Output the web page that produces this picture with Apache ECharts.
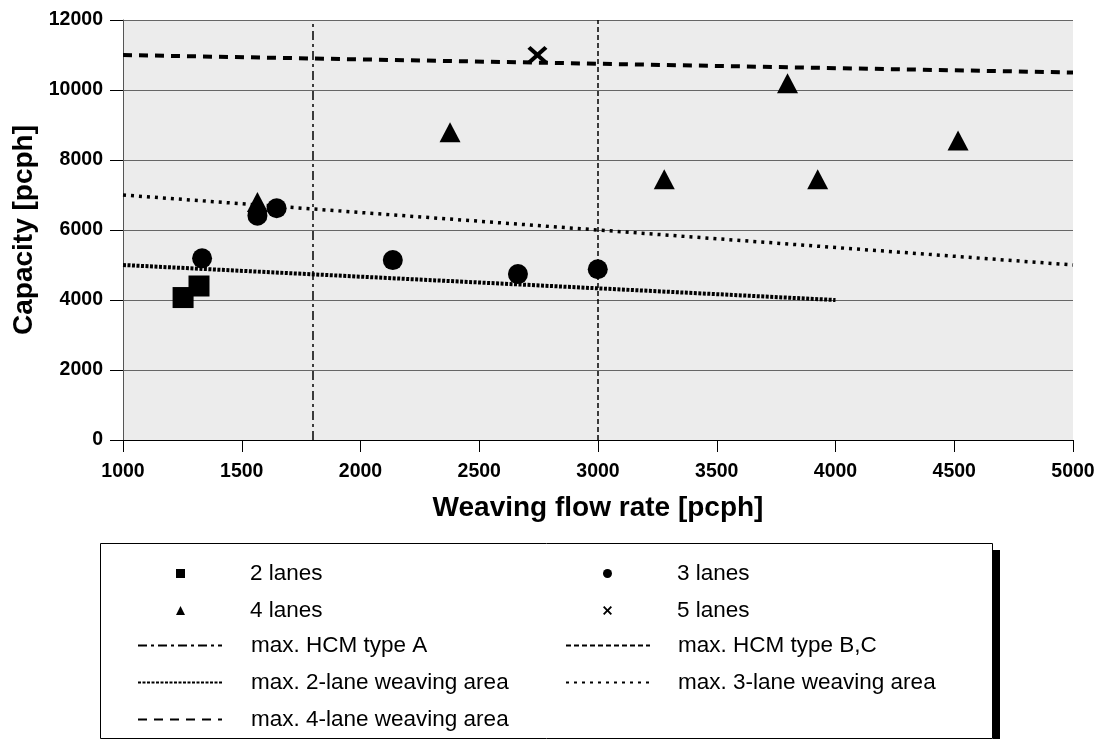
<!DOCTYPE html>
<html>
<head>
<meta charset="utf-8">
<script src="https://cdn.jsdelivr.net/npm/echarts@6/dist/echarts.min.js"></script>
<style>
  html, body { margin: 0; padding: 0; background: #fff; }
  #chart { width: 1098px; height: 740px; }
</style>
</head>
<body>
<div id="chart"></div>
<script>
// measured points [weaving flow, capacity]
const twoLanes = [[1253, 4070], [1320, 4400]];
const threeLanes = [[1333, 5190], [1566, 6410], [1647, 6620], [2136, 5140], [2663, 4740], [2999, 4880]];
const fourLanes = [[1566, 6800], [2377, 8790], [3279, 7450], [3798, 10190], [3925, 7450], [4516, 8560]];
const fiveLanes = [[2745, 11000]];

// limit lines
const hcmTypeA = [[1800, 0], [1800, 12000]];
const hcmTypeBC = [[3000, 0], [3000, 12000]];
const max2Lane = [[1000, 5000], [4000, 4000]];
const max3Lane = [[1000, 7000], [5000, 5000]];
const max4Lane = [[1000, 11000], [5000, 10500]];

const xTicks = [1000, 5000, 500];
const yTicks = [0, 12000, 2000];

const crossPath = 'path://M3,0 L10,7 L17,0 L20,3 L13,10 L20,17 L17,20 L10,13 L3,20 L0,17 L7,10 L0,3 Z';
const font = 'Liberation Sans, Arial, sans-serif';

const chart = echarts.init(document.getElementById('chart'));

// one legend block per column and kind, so marker icons stay small and square
const legendBlock = (left, top, iconW, textPad, names, hideSymbol) => ({
  orient: 'vertical',
  left: left,
  top: top,
  padding: 0,
  itemWidth: iconW,
  itemHeight: 9,
  itemGap: 14,
  selectedMode: false,
  itemStyle: hideSymbol ? { opacity: 0 } : undefined,
  textStyle: { fontFamily: font, fontSize: 22.5, color: '#000', lineHeight: 22, padding: [0, 0, 0, textPad] },
  data: names
});

const lineSeries = (name, data, type, width) => ({
  name: name,
  type: 'line',
  data: data,
  symbol: 'none',
  showSymbol: false,
  silent: true,
  z: 2,
  lineStyle: { color: '#000', width: width, type: type, cap: 'butt' }
});

const plain = v => String(v);

chart.setOption({
  animation: false,
  grid: {
    left: 123, right: 25, top: 20, height: 420,
    show: true, backgroundColor: '#ececec', borderWidth: 0
  },
  xAxis: {
    type: 'value',
    min: xTicks[0], max: xTicks[1], interval: xTicks[2],
    name: 'Weaving flow rate [pcph]',
    nameLocation: 'middle',
    nameGap: 54,
    nameTextStyle: { fontFamily: font, fontSize: 28, fontWeight: 'bold', color: '#000' },
    axisLine: { lineStyle: { color: '#000', width: 1 } },
    axisTick: { show: true, inside: false, length: 12, lineStyle: { color: '#000' } },
    axisLabel: { fontFamily: font, fontSize: 19.5, fontWeight: 'bold', color: '#000', margin: 22, formatter: plain },
    splitLine: { show: false }
  },
  yAxis: {
    type: 'value',
    min: yTicks[0], max: yTicks[1], interval: yTicks[2],
    name: 'Capacity [pcph]',
    nameLocation: 'middle',
    nameGap: 84,
    nameTextStyle: { fontFamily: font, fontSize: 28, fontWeight: 'bold', color: '#000' },
    axisLine: { show: true, lineStyle: { color: '#555', width: 1 } },
    axisTick: { show: true, inside: false, length: 13, lineStyle: { color: '#000' } },
    axisLabel: { fontFamily: font, fontSize: 19.5, fontWeight: 'bold', color: '#000', margin: 20, formatter: plain },
    splitLine: { show: true, lineStyle: { color: '#666', width: 1 } }
  },
  legend: [
    legendBlock(176, 562, 9, 60, ['2 lanes', '4 lanes'], false),
    legendBlock(603, 562, 9, 60, ['3 lanes', '5 lanes'], false),
    legendBlock(137, 634, 84, 24, ['max. HCM type A', 'max. 2-lane weaving area', 'max. 4-lane weaving area'], true),
    legendBlock(565, 634, 84, 23, ['max. HCM type B,C', 'max. 3-lane weaving area'], true)
  ],
  graphic: [
    { type: 'rect', z: -1, shape: { x: 993, y: 550, width: 7, height: 189 }, style: { fill: '#000' } },
    { type: 'rect', z: -1, shape: { x: 100.5, y: 543.5, width: 892, height: 195 }, style: { fill: '#fff', stroke: '#000', lineWidth: 1 } }
  ],
  series: [
    lineSeries('max. HCM type A', hcmTypeA, [9, 4, 3, 4], 1.5),
    lineSeries('max. HCM type B,C', hcmTypeBC, [5, 3], 1.5),
    lineSeries('max. 2-lane weaving area', max2Lane, [3, 1.5], 4),
    lineSeries('max. 3-lane weaving area', max3Lane, [3, 5], 3.5),
    lineSeries('max. 4-lane weaving area', max4Lane, [9, 7], 4),
    { name: '2 lanes', type: 'scatter', data: twoLanes, symbol: 'rect', symbolSize: 21, itemStyle: { color: '#000', opacity: 1 }, z: 5 },
    { name: '3 lanes', type: 'scatter', data: threeLanes, symbol: 'circle', symbolSize: 20, itemStyle: { color: '#000', opacity: 1 }, z: 5 },
    { name: '4 lanes', type: 'scatter', data: fourLanes, symbol: 'triangle', symbolSize: [21, 20], itemStyle: { color: '#000', opacity: 1 }, z: 5 },
    { name: '5 lanes', type: 'scatter', data: fiveLanes, symbol: crossPath, symbolSize: [20, 18], itemStyle: { color: '#000', opacity: 1 }, z: 5 }
  ]
});
</script>
</body>
</html>
